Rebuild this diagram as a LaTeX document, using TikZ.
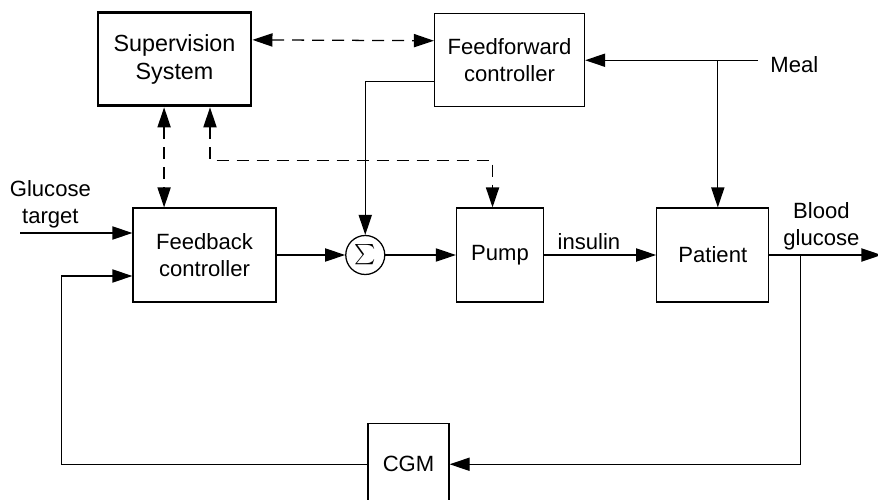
\documentclass[tikz,border=0pt]{standalone}
\usepackage{amsmath}
\usepackage{fontspec}
\setmainfont{Liberation Sans}
\usetikzlibrary{arrows.meta, positioning}
\tikzset{
	blk/.style   ={rectangle, draw=black, line width=0.9pt, inner sep=0pt, align=center},
	supblk/.style={blk, line width=2.1pt, font=\fontsize{16.6}{19.6}\selectfont},
	sumj/.style  ={circle, draw=black, line width=0.9pt, minimum size=0.975cm, inner sep=0pt, font=\fontsize{14.5}{17}\selectfont},
	sig/.style   ={-{Triangle[length=0.5cm, width=0.33cm]}, line width=0.9pt},
	dsig/.style  ={{Triangle[length=0.5cm, width=0.33cm]}-{Triangle[length=0.5cm, width=0.33cm]}, line width=0.9pt, dash pattern=on 0.3cm off 0.2cm},
	lbl/.style   ={align=center},
}

\begin{document}
\begin{tikzpicture}[every node/.style={font=\fontsize{15.7}{19.2}\selectfont}]
	\useasboundingbox (0,0) rectangle (21.95,-12.475);
	% main loop
	\node[blk, minimum width=3.575cm, minimum height=2.35cm] (fb) at (5.1125,-6.375) {Feedback\\controller};
	\node[sumj, right=1.7125cm of fb] (sum) {$\sum$};
	\node[blk, right=1.7625cm of sum, minimum width=2.175cm, minimum height=2.35cm] (pump) {Pump};
	\node[blk, right=2.8cm of pump, minimum width=2.8cm, minimum height=2.35cm] (patient) {Patient};
	\node[supblk, above=2.5cm of fb, xshift=-0.75cm, minimum width=3.825cm, minimum height=2.325cm] (sup) {Supervision\\System};
	\node[blk, above=2.5cm of pump, xshift=0.2375cm, minimum width=3.75cm, minimum height=2.325cm] (ff) {Feedforward\\controller};
	\node[blk, below=3cm of fb, xshift=5.1cm, minimum width=2.025cm, minimum height=2.05cm] (cgm) {CGM};
	\node[lbl, right=4.325cm of ff.east, yshift=-0.1cm, inner xsep=0.3cm] (meal) {Meal};
	\coordinate (gin) at ([xshift=-2.8cm, yshift=0.55cm]fb.west);
	\coordinate (fbin) at ([yshift=-0.525cm]fb.west);
	\coordinate (bgout) at ([xshift=2.8cm]patient.east);
	\node[lbl, above=0pt of gin, xshift=0.75cm] (gtarget) {Glucose\\target};
	% signals
	\draw[sig] (gin) -- (gin -| fb.west);
	\draw[sig] (fb) -- (sum);
	\draw[sig] (sum) -- (pump);
	\draw[sig] (pump) -- (patient) node[lbl, midway, above, xshift=-0.28cm] (ins) {insulin};
	\draw[sig] (patient.east) -- (bgout) node[lbl, midway, above, xshift=-0.1cm] (bg) {Blood\\glucose};
	\draw[sig] ([yshift=-0.5375cm]ff.west) -| (sum.north);
	\draw[sig] (meal.west |- ff.east) -- (ff.east);
	\draw[sig] ([xshift=0.125cm]patient.north |- ff.east) -- ([xshift=0.125cm]patient.north);
	\draw[sig] ([xshift=0.775cm]patient.east) |- (cgm.east);
	\draw[sig] (cgm.west) -| ([xshift=-1.775cm]fbin) -- (fbin);
	% supervision links
	\draw[dsig] ([yshift=0.4875cm]sup.east) -- ([yshift=0.4875cm]ff.west);
	\draw[dsig] ([xshift=-1.01cm]fb.north |- sup.south) -- ([xshift=-1.01cm]fb.north);
	\draw[dsig] ([xshift=0.8875cm]sup.south) -- ++(0,-1.325) -| ([xshift=-0.1875cm]pump.north);
\end{tikzpicture}
\end{document}
